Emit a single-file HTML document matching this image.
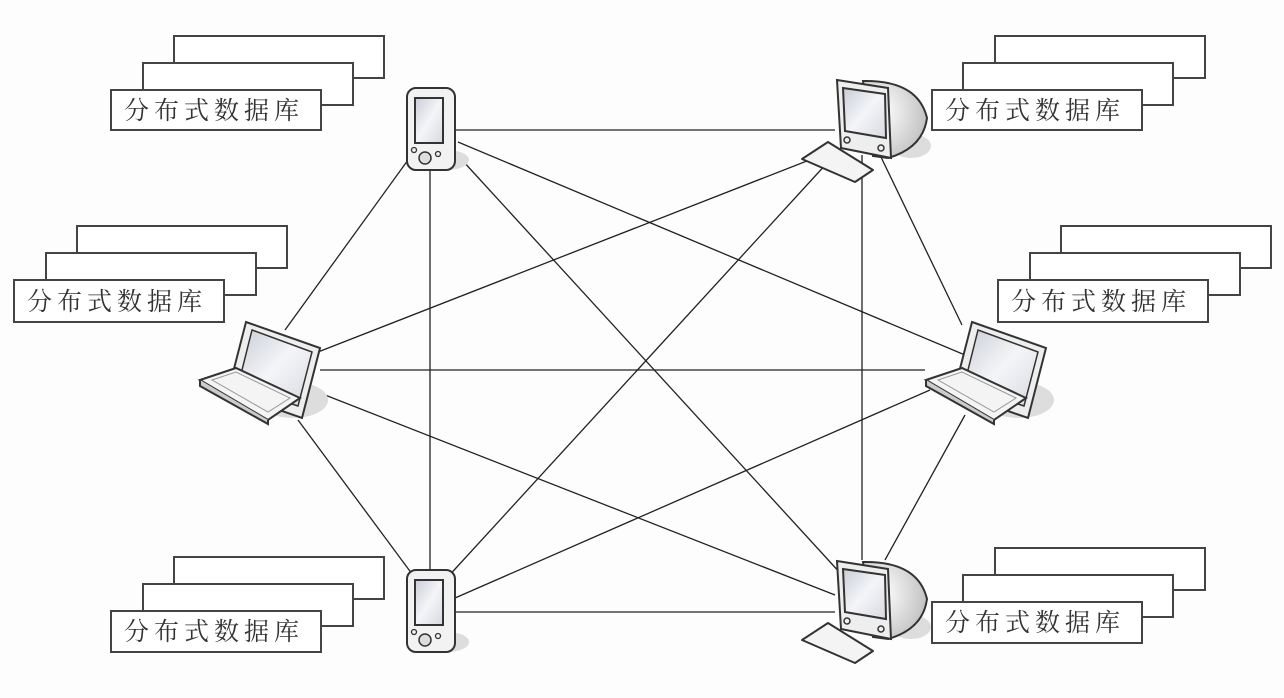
<!DOCTYPE html>
<html><head><meta charset="utf-8"><style>
html,body{margin:0;padding:0;background:#fdfdfd;}
svg{display:block}
text{font-family:"Liberation Serif","Noto Serif CJK SC",serif;font-size:25px;letter-spacing:5px;fill:#333;}
</style></head><body>
<svg width="1284" height="698" viewBox="0 0 1284 698" xmlns="http://www.w3.org/2000/svg">
<defs>
<linearGradient id="scr" x1="0" y1="0" x2="1" y2="1"><stop offset="0" stop-color="#c9cdd6"/><stop offset="0.5" stop-color="#f4f5f8"/><stop offset="1" stop-color="#d6d9e0"/></linearGradient>
<radialGradient id="bk" cx="0.3" cy="0.4" r="0.8"><stop offset="0" stop-color="#ffffff"/><stop offset="1" stop-color="#b9b9b9"/></radialGradient>
<g id="pda">
<ellipse cx="40" cy="72" rx="22" ry="10" fill="#ddd"/>
<rect x="0" y="0" width="48" height="82" rx="9" fill="#f2f2f2" stroke="#333" stroke-width="2"/>
<rect x="8" y="10" width="28" height="45" fill="url(#scr)" stroke="#333" stroke-width="2"/>
<circle cx="18" cy="70" r="6" fill="#ddd" stroke="#333" stroke-width="1.5"/>
<circle cx="7" cy="62" r="2.5" fill="none" stroke="#333" stroke-width="1.3"/>
<circle cx="31" cy="66" r="2.5" fill="none" stroke="#333" stroke-width="1.3"/>
</g>
<g id="mon">
<ellipse cx="78" cy="70" rx="20" ry="12" fill="#ddd"/>
<path d="M30 5 Q85 4 94 42 Q90 72 55 82 L40 80 Z" fill="url(#bk)" stroke="#333" stroke-width="2"/>
<path d="M4 4 L55 12 L58 82 L8 72 Z" fill="#eee" stroke="#333" stroke-width="2"/>
<path d="M10 12 L52 18 L53 62 L12 55 Z" fill="url(#scr)" stroke="#333" stroke-width="2"/>
<circle cx="14" cy="64" r="3" fill="none" stroke="#333" stroke-width="1.5"/>
<circle cx="48" cy="72" r="3" fill="none" stroke="#333" stroke-width="1.5"/>
<path d="M-31 83 L-5 66 L40 94 L22 106 Z" fill="#f4f4f4" stroke="#333" stroke-width="2" stroke-linejoin="round"/>
</g>
<g id="lap">
<ellipse cx="95" cy="80" rx="35" ry="18" fill="#ddd"/>
<path d="M48 2 L122 28 L104 98 L30 72 Z" fill="#eee" stroke="#333" stroke-width="2"/>
<path d="M54 10 L114 32 L100 86 L40 66 Z" fill="url(#scr)" stroke="#333" stroke-width="1.5"/>
<path d="M2 60 L38 48 L102 78 L70 100 Z" fill="#f4f4f4" stroke="#333" stroke-width="2"/>
<path d="M14 60 L38 52 L92 78 L70 92 Z" fill="none" stroke="#999" stroke-width="1"/>
<path d="M2 60 L2 66 L70 104 L70 100" fill="#ccc" stroke="#333" stroke-width="2"/>
</g>
</defs>

<g stroke="#222" stroke-width="1.3" fill="none">
<line x1="455" y1="130" x2="835" y2="130"/>
<line x1="430" y1="170" x2="430" y2="572"/>
<line x1="862" y1="155" x2="862" y2="560"/>
<line x1="455" y1="612" x2="835" y2="612"/>
<line x1="320" y1="370" x2="925" y2="370"/>
<line x1="408" y1="160" x2="285" y2="330"/>
<line x1="458" y1="142" x2="965" y2="355"/>
<line x1="462" y1="160" x2="842" y2="575"/>
<line x1="835" y1="150" x2="318" y2="352"/>
<line x1="828" y1="162" x2="445" y2="580"/>
<line x1="880" y1="155" x2="962" y2="325"/>
<line x1="298" y1="420" x2="415" y2="578"/>
<line x1="325" y1="395" x2="835" y2="595"/>
<line x1="930" y1="390" x2="455" y2="598"/>
<line x1="965" y1="415" x2="885" y2="560"/>
</g>

<use href="#pda" x="407" y="88"/>
<use href="#pda" x="407" y="570"/>
<use href="#mon" x="833" y="76"/>
<use href="#mon" x="833" y="557"/>
<use href="#lap" x="198" y="320"/>
<use href="#lap" x="924" y="320"/>

<g fill="#fff" stroke="#444" stroke-width="2">
<rect x="174" y="36" width="210" height="42"/><rect x="143" y="63" width="210" height="42"/><rect x="111" y="90" width="210" height="40"/>
<rect x="995" y="36" width="210" height="42"/><rect x="963" y="63" width="210" height="42"/><rect x="932" y="90" width="210" height="40"/>
<rect x="77" y="226" width="210" height="42"/><rect x="46" y="253" width="210" height="42"/><rect x="14" y="280" width="210" height="42"/>
<rect x="1061" y="226" width="210" height="42"/><rect x="1030" y="253" width="210" height="42"/><rect x="998" y="280" width="210" height="42"/>
<rect x="174" y="557" width="210" height="42"/><rect x="143" y="584" width="210" height="42"/><rect x="111" y="611" width="210" height="41"/>
<rect x="995" y="548" width="210" height="42"/><rect x="963" y="575" width="210" height="42"/><rect x="932" y="602" width="210" height="41"/>
</g>
<text x="124" y="119">分布式数据库</text>
<text x="945" y="119">分布式数据库</text>
<text x="27" y="310">分布式数据库</text>
<text x="1011" y="310">分布式数据库</text>
<text x="124" y="640">分布式数据库</text>
<text x="945" y="631">分布式数据库</text>
</svg>
</body></html>
